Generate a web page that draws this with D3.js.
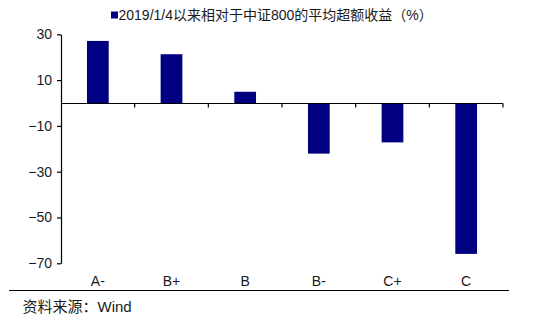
<!DOCTYPE html>
<html>
<head>
<meta charset="utf-8">
<script src="https://cdn.jsdelivr.net/npm/d3@7/dist/d3.min.js"></script>
<style>
  html, body { margin: 0; padding: 0; background: #fff; }
  svg { display: block; }
  text { font-family: "Liberation Sans", Arial, "Noto Sans CJK SC", sans-serif; fill: #1a1a1a; }
</style>
</head>
<body>
<svg id="chart" width="555" height="328"></svg>
<script>
// Rating grades and their average excess return vs CSI 800 since 2019/1/4 (%)
const categories = ["A-", "B+", "B", "B-", "C+", "C"];
const excessReturn = [27.1, 21.3, 4.9, -22.1, -17.2, -65.9];
const yTicks = [30, 10, -10, -30, -50, -70];
const legendLabel = "2019/1/4以来相对于中证800的平均超额收益（%）";
const sourceLabel = "资料来源：Wind";

const svg = d3.select("#chart");
const plot = { left: 61, right: 503, top: 34.3, bottom: 263.3 };
const barColor = "#000080";

const x = d3.scaleBand().domain(categories).range([plot.left, plot.right]).padding(0);
const y = d3.scaleLinear().domain([-70, 30]).range([plot.bottom, plot.top]);
const barFrac = 0.295;
const bw = x.bandwidth() * barFrac;

// Bars
svg.append("g")
  .selectAll("rect")
  .data(categories.map((c, i) => ({ c, v: excessReturn[i] })))
  .join("rect")
  .attr("x", d => x(d.c) + (x.bandwidth() - bw) / 2)
  .attr("width", bw)
  .attr("y", d => y(Math.max(0, d.v)))
  .attr("height", d => Math.abs(y(d.v) - y(0)))
  .attr("fill", barColor);

// Y axis
const yAxis = svg.append("g")
  .attr("transform", `translate(${plot.left},0)`)
  .call(d3.axisLeft(y).tickValues(yTicks).tickSize(4).tickSizeOuter(0).tickPadding(5));
yAxis.selectAll("path, line").attr("stroke", "#000").attr("stroke-width", 1.2);
yAxis.selectAll("text")
  .style("font-size", "14px")
  .style("font-family", "'Liberation Sans', Arial, sans-serif")
  .attr("fill", "#1a1a1a");

// Zero line with category boundary ticks
const zeroY = Math.round(y(0)) + 0.5;
svg.append("line")
  .attr("x1", plot.left).attr("x2", plot.right)
  .attr("y1", zeroY).attr("y2", zeroY)
  .attr("stroke", "#000").attr("stroke-width", 1.2);
svg.append("g")
  .selectAll("line")
  .data(categories)
  .join("line")
  .attr("x1", d => x(d) + x.bandwidth())
  .attr("x2", d => x(d) + x.bandwidth())
  .attr("y1", zeroY).attr("y2", zeroY + 4)
  .attr("stroke", "#000").attr("stroke-width", 1.2);

// Category labels below the plot
svg.append("g")
  .selectAll("text")
  .data(categories)
  .join("text")
  .attr("x", d => x(d) + x.bandwidth() / 2)
  .attr("y", 281)
  .attr("dy", "0.35em")
  .attr("text-anchor", "middle")
  .style("font-size", "14px")
  .text(d => d);

// Legend
svg.append("rect")
  .attr("x", 111).attr("y", 11.5)
  .attr("width", 7).attr("height", 7)
  .attr("fill", barColor);
svg.append("text")
  .attr("x", 118.5).attr("y", 15)
  .attr("dy", "0.35em")
  .style("font-size", "14px")
  .text(legendLabel);

// Footer rule and source
svg.append("line")
  .attr("x1", 9).attr("x2", 509)
  .attr("y1", 290.5).attr("y2", 290.5)
  .attr("stroke", "#000").attr("stroke-width", 1.2);
svg.append("text")
  .attr("x", 22.5).attr("y", 306.5)
  .attr("dy", "0.35em")
  .style("font-size", "15px")
  .attr("fill", "#222")
  .text(sourceLabel);
</script>
</body>
</html>
